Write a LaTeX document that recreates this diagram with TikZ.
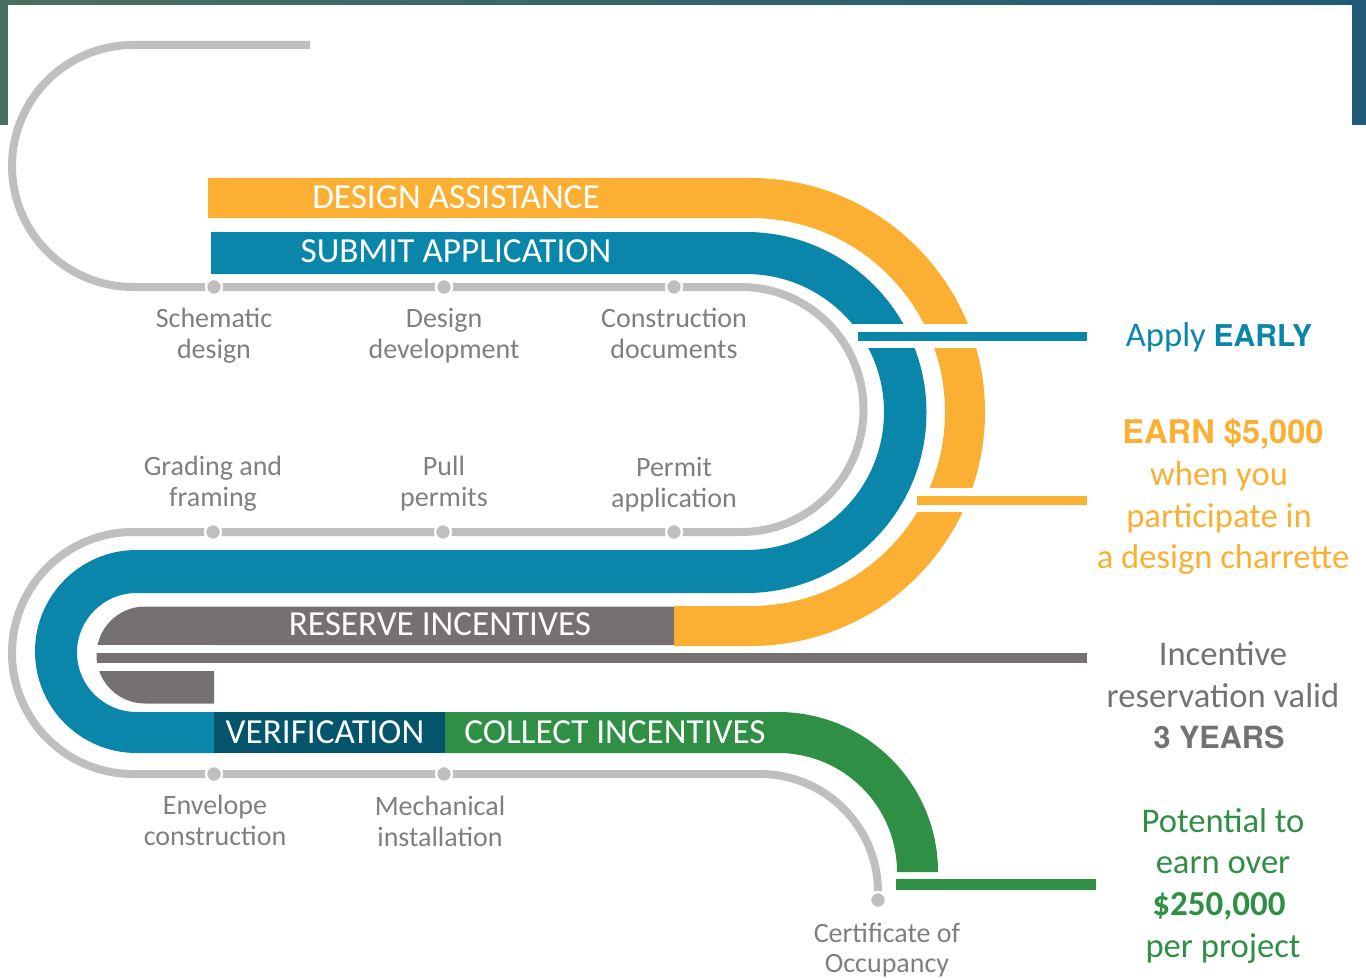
\documentclass[tikz,border=0pt]{standalone}
\usepackage{fontspec}
\setmainfont{Carlito}
\newfontfamily\heros{TeX Gyre Heros}
\definecolor{cOrange}{HTML}{FBB034}
\definecolor{cBlue}{HTML}{0A86AA}
\definecolor{cTeal}{HTML}{04546C}
\definecolor{cGreen}{HTML}{2F8F45}
\definecolor{cGband}{HTML}{767171}
\definecolor{cTrack}{HTML}{BFBFBF}
\definecolor{cLbl}{HTML}{7F7F7F}
\definecolor{cTopL}{HTML}{48705E}
\definecolor{cTopM}{HTML}{1E5068}
\definecolor{cTopR}{HTML}{1F5A78}
\begin{document}
\begin{tikzpicture}[x=0.5pt,y=0.5pt,
  track/.style={draw=cTrack, line width=4pt},
  dotnode/.style={circle, fill=cTrack, draw=white, line width=1.2pt, minimum size=8pt, inner sep=0pt},
  steplbl/.style={font=\fontsize{14pt}{15.5pt}\selectfont, text=cLbl, anchor=base, inner sep=0pt},
  bandlbl/.style={font=\fontsize{17.6pt}{20pt}\selectfont, text=white, anchor=base, inner sep=0pt},
  sidelbl/.style={font=\fontsize{17.3pt}{21pt}\selectfont, anchor=base, inner sep=0pt}]
\useasboundingbox (0,0) rectangle (1366,-979);
% top decorative strip
\shade[left color=cTopL, middle color=cTopM, right color=cTopR] (0,0) rectangle (1366,-125);
\fill[white] (8,-5) rectangle (1352,-125);
% orange band
\fill[cOrange] (208,-178) -- (751,-178) arc[start angle=90,end angle=-90,radius=234] -- (674,-646) -- (674,-606) -- (751,-606) arc[start angle=-90,end angle=90,radius=194] -- (208,-218) -- cycle;
\fill[white] (900,-488) rectangle (1000,-512);
% blue band
\fill[cBlue] (211,-232) -- (746,-232) arc[start angle=90,end angle=-90,radius=180.5] -- (136.5,-593) arc[start angle=90,end angle=270,radius=59.5] -- (214,-712) -- (214,-753) -- (136.5,-753) arc[start angle=270,end angle=90,radius=101.5] -- (746,-550) arc[start angle=-90,end angle=90,radius=138] -- (211,-274) -- cycle;
\fill[white] (851,-324) rectangle (1000,-348);
% verification and collect
\fill[cTeal] (214,-712) rectangle (445,-753);
\fill[cGreen] (445,-712) -- (778,-712) arc[start angle=90,end angle=0,radius=160] -- (897,-872) arc[start angle=0,end angle=90,radius=119] -- (445,-753) -- cycle;
% gray reserve shape
\fill[cGband] (674,-606.5) -- (145,-606.5) arc[start angle=90,end angle=270,radius=48.5] -- (214,-703.5) -- (214,-645) -- (674,-645) -- cycle;
\fill[white] (90,-645) rectangle (214.5,-652.5);
\fill[white] (90,-662.5) rectangle (214.5,-671);
\fill[cGband] (97.5,-652.5) rectangle (1087,-662.5);
% pointer lines
\fill[cBlue] (858,-332) rectangle (1087,-341);
\fill[cOrange] (917,-496) rectangle (1087,-505);
\fill[cGreen] (896,-879) rectangle (1096,-890);
% gray track
\draw[track] (310,-45) -- (133,-45) arc[start angle=90,end angle=270,radius=121] -- (741,-287) arc[start angle=90,end angle=-90,radius=122.5] -- (133,-532) arc[start angle=90,end angle=270,radius=121] -- (760,-774) arc[start angle=90,end angle=0,radius=118];
\node[dotnode] (d1) at (214,-287) {};
\node[dotnode] (d2) at (444,-287) {};
\node[dotnode] (d3) at (674,-287) {};
\node[dotnode] (d4) at (213,-532) {};
\node[dotnode] (d5) at (443,-532) {};
\node[dotnode] (d6) at (674,-532) {};
\node[dotnode] (d7) at (214,-774) {};
\node[dotnode] (d8) at (444,-774) {};
\node[dotnode] (d9) at (878,-900) {};
% band labels
\node[bandlbl] (tDA) at (456,-208) {DESIGN ASSISTANCE};
\node[bandlbl] (tSA) at (456,-262) {SUBMIT APPLICATION};
\node[bandlbl] (tRI) at (440,-635) {RESERVE INCENTIVES};
\node[bandlbl] (tVE) at (325,-743) {VERIFICATION};
\node[bandlbl] (tCI) at (615,-743) {COLLECT INCENTIVES};
% step labels
\node[steplbl] (s1a) at (214,-327) {Schematic};
\node[steplbl] (s1b) at (214,-358) {design};
\node[steplbl] (s2a) at (444,-327) {Design};
\node[steplbl] (s2b) at (444,-358) {development};
\node[steplbl] (s3a) at (674,-327) {Construction};
\node[steplbl] (s3b) at (674,-358) {documents};
\node[steplbl] (s4a) at (213,-475) {Grading and};
\node[steplbl] (s4b) at (213,-506) {framing};
\node[steplbl] (s5a) at (444,-475) {Pull};
\node[steplbl] (s5b) at (444,-506) {permits};
\node[steplbl] (s6a) at (674,-476) {Permit};
\node[steplbl] (s6b) at (674,-507) {application};
\node[steplbl] (s7a) at (215,-814) {Envelope};
\node[steplbl] (s7b) at (215,-845) {construction};
\node[steplbl] (s8a) at (440,-815) {Mechanical};
\node[steplbl] (s8b) at (440,-846) {installation};
\node[steplbl] (s9a) at (887,-942) {Certificate of};
\node[steplbl] (s9b) at (887,-972) {Occupancy};
% side texts
\node[sidelbl, text=cBlue] (r1) at (1219,-346) {Apply {\heros\bfseries\fontsize{15pt}{18pt}\selectfont EARLY}};
\node[sidelbl, text=cOrange] (r2) at (1223,-443) {\heros\bfseries\fontsize{16.3pt}{18pt}\selectfont EARN \$5,000};
\node[sidelbl, text=cOrange] (r3) at (1219,-485) {when you};
\node[sidelbl, text=cOrange] (r4) at (1219,-527) {participate in};
\node[sidelbl, text=cOrange] (r5) at (1223,-568) {a design charrette};
\node[sidelbl, text=cGband] (g1) at (1223,-665) {Incentive};
\node[sidelbl, text=cGband] (g2) at (1223,-707) {reservation valid};
\node[sidelbl, text=cGband] (g3) at (1219,-748) {\heros\bfseries\fontsize{15.3pt}{18pt}\selectfont 3 YEARS};
\node[sidelbl, text=cGreen] (p1) at (1223,-832) {Potential to};
\node[sidelbl, text=cGreen] (p2) at (1223,-873) {earn over};
\node[sidelbl, text=cGreen] (p3) at (1219,-915) {\bfseries\fontsize{17.5pt}{21pt}\selectfont \$250,000};
\node[sidelbl, text=cGreen] (p4) at (1223,-957) {per project};
\end{tikzpicture}
\end{document}
